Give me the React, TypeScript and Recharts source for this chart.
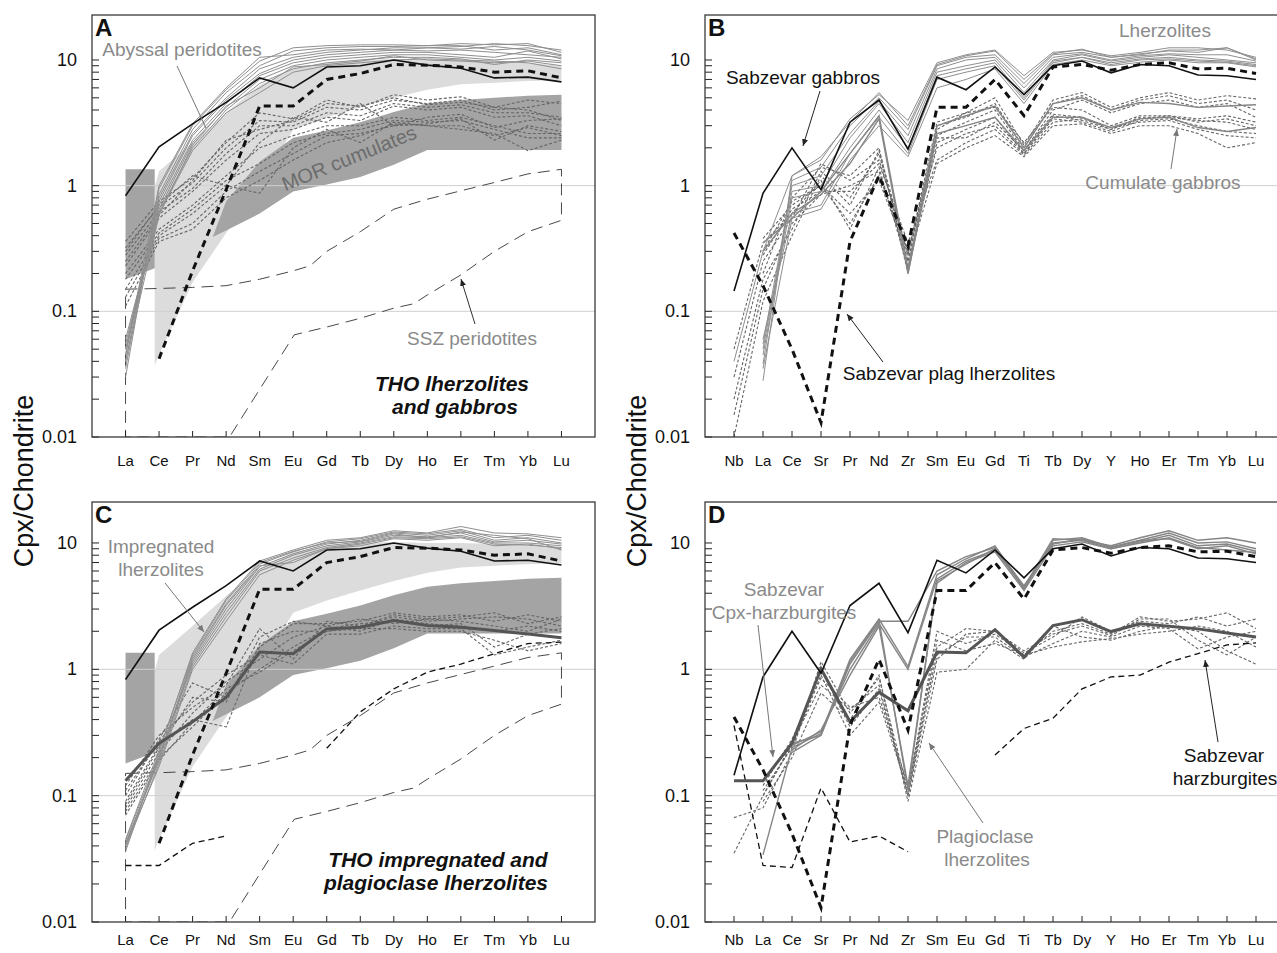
import React from 'react';
import { ComposedChart, Line, Area, XAxis, YAxis, ReferenceLine } from 'recharts';

const FONT = "'Liberation Sans', Arial, Helvetica, sans-serif";

// ---------- categories ----------
const REE = ['La', 'Ce', 'Pr', 'Nd', 'Sm', 'Eu', 'Gd', 'Tb', 'Dy', 'Ho', 'Er', 'Tm', 'Yb', 'Lu'];
const SPIDER = ['Nb', 'La', 'Ce', 'Sr', 'Pr', 'Nd', 'Zr', 'Sm', 'Eu', 'Gd', 'Ti', 'Tb', 'Dy', 'Y', 'Ho', 'Er', 'Tm', 'Yb', 'Lu'];
const Y_TICKS = [0.01, 0.02, 0.03, 0.04, 0.05, 0.06, 0.07, 0.08, 0.09, 0.1, 0.2, 0.3, 0.4, 0.5, 0.6, 0.7, 0.8, 0.9, 1, 2, 3, 4, 5, 6, 7, 8, 9, 10];
const Y_MAJOR = [0.01, 0.1, 1, 10];

// ---------- fields (REE panels A & C) ----------
const lightFieldX = [1.87, 2, 3, 4, 5, 6, 7, 8, 9, 10, 11, 12, 13, 14];
const lightFieldLow = [0.037, 0.045, 0.17, 0.42, 1.0, 2.8, 3.5, 4.2, 5.0, 5.8, 6.4, 6.6, 6.8, 6.9];
const lightFieldHigh = [0.97, 1.3, 2.2, 3.8, 6.3, 8.5, 9.5, 10, 10.2, 10, 10, 9.8, 9.5, 9.0];

const morRectX = [1, 1.87];
const morRectLow = [0.18, 0.22];
const morRectHigh = [1.35, 1.35];

const morFieldX = [3.6, 4, 5, 6, 7, 8, 9, 10, 11, 12, 13, 14];
const morFieldLow = [0.39, 0.44, 0.6, 0.9, 1.02, 1.17, 1.47, 1.92, 1.92, 1.92, 1.92, 1.92];
const morFieldHigh = [0.39, 0.75, 1.55, 2.4, 2.75, 3.2, 3.85, 4.5, 4.8, 5.0, 5.2, 5.3];

// SSZ peridotites outline (traced polygon)
const sszX = [1, 2, 3, 4, 5, 6, 6.5, 7, 8, 9, 10, 11, 12, 13, 14, 14, 13, 12, 11, 10, 9.6, 9, 8, 7, 6.03, 4.1, 3, 2, 1, 1];
const sszY = [0.15, 0.152, 0.155, 0.16, 0.18, 0.21, 0.23, 0.3, 0.43, 0.65, 0.78, 0.91, 1.06, 1.24, 1.35, 0.53, 0.43, 0.3, 0.195, 0.135, 0.115, 0.106, 0.088, 0.075, 0.065, 0.01, 0.01, 0.01, 0.01, 0.15];

// ---------- panel A ----------
const abyssalA = [
  [0.030, 0.95, 3.0, 5.8, 9.8, 12.5, 13.0, 13.2, 13.2, 13.0, 13.5, 13.2, 13.5, 11.5],
  [0.035, 0.85, 2.8, 5.5, 9.0, 11.8, 12.5, 12.8, 12.8, 13.0, 13.0, 12.0, 12.5, 11.0],
  [0.040, 0.80, 2.6, 5.0, 8.5, 10.5, 11.5, 12.0, 12.5, 12.5, 12.2, 12.8, 12.0, 10.8],
  [0.045, 0.75, 2.5, 4.8, 7.8, 10.0, 11.0, 11.5, 12.0, 11.8, 12.0, 11.5, 11.0, 10.5],
  [0.050, 0.70, 2.3, 4.5, 7.5, 9.5, 10.5, 11.0, 11.5, 11.5, 11.0, 10.5, 11.8, 10.2],
  [0.055, 0.65, 2.2, 4.2, 7.0, 9.0, 10.0, 10.5, 11.0, 11.0, 10.5, 10.0, 10.5, 9.8],
  [0.060, 0.62, 2.0, 4.0, 6.5, 8.5, 9.5, 10.0, 10.5, 10.5, 10.2, 9.2, 10.0, 9.5],
  [0.050, 0.60, 1.9, 3.8, 5.5, 8.0, 9.0, 9.5, 10.0, 10.2, 10.0, 9.8, 9.5, 8.5],
  [0.040, 0.58, 2.1, 4.3, 6.0, 8.8, 9.2, 9.8, 10.8, 10.0, 9.8, 9.5, 9.8, 9.0],
  [0.045, 1.0, 3.1, 6.0, 10.5, 11.0, 12.0, 12.2, 12.0, 12.5, 12.8, 13.5, 13.0, 12.0],
];
const gabbroDashA = [
  [0.36, 0.75, 1.15, 2.2, 3.8, 3.4, 4.8, 4.2, 5.3, 4.8, 5.1, 4.2, 4.8, 4.5],
  [0.32, 0.68, 1.05, 2.0, 3.3, 3.2, 4.2, 4.0, 4.8, 4.5, 4.8, 4.0, 4.2, 4.7],
  [0.28, 0.62, 0.95, 1.8, 3.0, 3.0, 3.8, 3.6, 4.5, 4.2, 4.4, 3.8, 3.8, 3.5],
  [0.25, 0.58, 1.1, 2.3, 2.8, 3.3, 4.5, 4.3, 5.0, 4.4, 4.6, 4.2, 4.0, 3.3],
  [0.23, 0.55, 0.9, 1.6, 2.6, 2.8, 3.5, 3.3, 4.3, 4.0, 4.2, 3.5, 3.6, 3.0],
  [0.20, 0.45, 0.7, 1.2, 2.0, 2.5, 3.0, 3.0, 3.5, 3.3, 3.5, 3.0, 2.6, 2.6],
  [0.18, 0.42, 0.65, 1.1, 1.5, 2.2, 2.6, 2.8, 3.3, 3.2, 3.3, 2.8, 2.4, 2.4],
  [0.15, 0.40, 0.6, 1.0, 0.87, 2.0, 2.8, 2.2, 3.2, 3.0, 3.0, 2.5, 2.9, 2.5],
  [0.13, 0.38, 0.5, 0.9, 1.3, 1.8, 2.5, 2.6, 3.0, 3.1, 3.4, 2.3, 3.0, 2.7],
  [0.11, 0.36, 0.45, 0.8, 1.1, 1.6, 2.2, 2.5, 3.1, 3.0, 2.8, 2.6, 1.9, 2.3],
  [0.30, 0.70, 1.2, 1.0, 2.2, 3.5, 3.2, 4.5, 3.0, 3.5, 3.7, 2.9, 3.3, 3.4],
];
const sabzGabbroREE = [0.83, 2.04, 3.1, 4.6, 7.2, 6.0, 8.8, 9.0, 10.0, 9.1, 8.6, 7.2, 7.3, 6.7];
const sabzPlagREE = [null, 0.042, 0.21, 0.93, 4.3, 4.3, 7.0, 7.8, 9.2, 9.1, 8.8, 8.0, 8.2, 7.2];

// ---------- panel B ----------
const lherzB = [
  [null, 0.028, 1.2, 1.6, 3.4, 5.3, 3.3, 9.5, 11.0, 12.0, 7.5, 11.5, 12.0, 10.8, 11.5, 12.5, 12.5, 12.0, 10.5],
  [null, 0.038, 1.1, 1.4, 3.0, 5.0, 2.8, 9.0, 10.5, 11.0, 6.5, 11.0, 11.5, 10.5, 11.0, 12.0, 12.0, 12.5, 10.0],
  [null, 0.055, 1.0, 1.2, 2.6, 4.7, 2.5, 8.5, 10.0, 10.5, 6.0, 10.5, 11.2, 10.0, 10.8, 11.2, 11.0, 11.0, 9.8],
  [null, 0.05, 0.9, 1.0, 2.4, 4.5, 2.2, 8.0, 9.0, 10.0, 5.5, 10.0, 11.0, 9.8, 10.5, 11.0, 10.5, 10.0, 9.5],
  [null, 0.045, 0.8, 0.9, 2.0, 4.0, 2.0, 7.5, 8.5, 9.5, 5.0, 9.8, 10.5, 9.5, 10.2, 10.5, 10.0, 9.8, 9.2],
  [null, 0.06, 0.6, 0.7, 1.8, 3.5, 1.8, 7.0, 8.0, 9.0, 4.8, 9.5, 10.5, 9.2, 10.0, 10.2, 9.8, 9.6, 9.0],
  [null, 0.035, 0.55, 0.65, 1.6, 3.0, 1.7, 6.0, 7.0, 8.5, 4.5, 9.2, 10.0, 9.0, 9.6, 10.0, 9.5, 9.5, 8.8],
  [0.04, 0.3, 1.2, 1.7, 3.2, 5.5, 3.0, 9.2, 10.8, 11.8, 7.0, 11.2, 12.2, 10.5, 11.2, 11.8, 11.5, 12.5, 10.2],
];
const cumSolidB = [
  [null, 0.35, 0.55, 0.9, 1.8, 3.6, 0.22, 3.0, 3.6, 4.3, 2.0, 4.5, 5.0, 4.0, 4.6, 4.5, 4.2, 4.3, 4.4],
  [null, 0.3, 0.6, 0.85, 1.5, 3.4, 0.2, 2.6, 3.0, 3.5, 1.9, 3.5, 3.5, 2.9, 3.4, 3.5, 2.9, 2.7, 2.9],
];
const cumDashB = [
  [0.010, 0.12, 0.40, 1.2, 0.7, 1.9, 0.28, 3.2, 3.8, 5.0, 2.1, 4.8, 5.5, 4.2, 5.0, 5.5, 4.8, 5.2, 4.9],
  [0.02, 0.18, 0.45, 1.3, 0.8, 1.8, 0.25, 3.0, 3.5, 4.5, 2.0, 4.5, 5.2, 4.0, 4.8, 5.2, 4.5, 4.8, 4.0],
  [0.03, 0.25, 0.55, 1.5, 1.1, 1.6, 0.3, 2.5, 3.2, 4.0, 1.9, 4.0, 4.8, 3.8, 4.5, 4.8, 4.2, 4.5, 3.5],
  [0.05, 0.35, 0.6, 1.1, 0.45, 1.4, 0.22, 2.2, 2.8, 3.5, 1.8, 3.6, 3.3, 2.8, 3.4, 3.6, 3.2, 3.4, 3.0],
  [null, 0.38, 0.7, 1.0, 0.5, 1.2, 0.3, 2.0, 2.6, 3.0, 1.8, 3.4, 3.2, 2.7, 3.3, 3.4, 3.0, 2.7, 2.6],
  [null, 0.28, 0.65, 0.9, 0.9, 1.5, 0.35, 1.6, 2.2, 2.8, 1.75, 3.2, 3.4, 2.9, 3.2, 3.3, 2.8, 2.5, 2.4],
  [0.015, 0.15, 0.5, 0.85, 1.0, 1.3, 0.25, 1.5, 2.0, 2.5, 1.7, 3.0, 3.1, 2.6, 3.0, 3.0, 2.6, 2.0, 2.2],
  [null, 0.2, 0.8, 1.4, 1.2, 2.0, 0.2, 2.8, 3.8, 4.2, 2.2, 4.2, 4.0, 3.0, 3.6, 3.6, 3.4, 3.6, 3.2],
  [null, 0.3, 0.75, 1.0, 0.6, 1.1, 0.28, 2.4, 2.4, 3.2, 1.9, 3.7, 3.5, 2.8, 3.5, 3.5, 3.3, 3.2, 2.8],
];
const sabzGabbroSp = [0.145, 0.87, 2.0, 0.93, 3.2, 4.8, 1.95, 7.3, 5.8, 8.8, 5.3, 9.0, 9.8, 7.9, 9.2, 9.0, 7.6, 7.5, 7.0];
const sabzPlagSp = [0.42, 0.16, 0.05, 0.013, 0.36, 1.2, 0.33, 4.2, 4.2, 7.0, 3.6, 8.8, 9.2, 8.3, 9.2, 9.5, 8.5, 8.6, 7.8];

// ---------- panel C ----------
const impregC = [
  [0.036, 0.22, 1.35, 3.6, 7.2, 8.8, 10.5, 11.0, 12.5, 12.0, 13.5, 12.0, 11.8, 11.0],
  [0.040, 0.20, 1.25, 3.3, 6.8, 8.5, 10.2, 10.8, 12.2, 11.8, 12.8, 11.0, 11.5, 10.5],
  [0.042, 0.19, 1.15, 3.0, 6.5, 8.2, 9.8, 10.5, 12.0, 11.5, 12.5, 10.5, 11.0, 10.0],
  [0.044, 0.21, 1.1, 2.8, 6.2, 8.0, 9.5, 10.2, 11.5, 11.2, 12.0, 10.2, 10.5, 9.8],
  [0.038, 0.18, 1.05, 2.6, 6.0, 7.6, 9.2, 10.0, 11.2, 11.0, 11.5, 10.0, 10.0, 9.5],
  [0.040, 0.17, 1.0, 2.4, 5.6, 7.3, 9.0, 9.8, 11.0, 10.8, 11.2, 9.8, 9.6, 9.2],
  [0.045, 0.23, 1.3, 3.5, 7.0, 8.6, 10.0, 10.3, 11.8, 11.0, 12.2, 11.5, 10.8, 8.8],
  [0.041, 0.20, 1.2, 3.2, 6.6, 7.0, 9.0, 9.5, 10.8, 10.5, 11.0, 9.5, 9.8, 9.0],
];
const plagDashC = [
  [0.12, 0.30, 0.50, 0.75, 2.1, 1.2, 2.4, 2.2, 2.7, 2.5, 2.6, 2.8, 2.3, 2.6],
  [0.10, 0.28, 0.78, 0.60, 1.5, 2.3, 2.3, 2.4, 2.8, 2.6, 2.7, 2.4, 2.7, 2.4],
  [0.09, 0.25, 0.40, 0.35, 1.6, 2.0, 2.0, 2.2, 2.6, 2.4, 2.5, 2.6, 2.5, 2.2],
  [0.08, 0.22, 0.45, 0.80, 1.2, 1.8, 2.2, 2.0, 2.5, 2.3, 2.2, 2.0, 2.2, 2.0],
  [0.075, 0.20, 0.35, 0.65, 1.0, 1.5, 2.1, 2.3, 2.4, 2.2, 2.3, 1.5, 1.9, 2.1],
  [0.11, 0.27, 0.55, 0.9, 1.3, 1.1, 1.9, 1.9, 2.2, 2.1, 2.1, 1.3, 1.5, 1.7],
  [0.07, 0.19, 0.38, 0.7, 0.95, 1.4, 2.0, 2.1, 2.1, 2.0, 2.0, 1.7, 1.4, 1.6],
  [0.085, 0.24, 0.6, 0.55, 1.8, 2.4, 2.2, 2.5, 2.3, 2.5, 2.4, 2.2, 2.0, 2.5],
];
const harzAvgC = [0.131, 0.26, 0.385, 0.6, 1.37, 1.33, 2.09, 2.15, 2.43, 2.22, 2.15, 2.03, 1.9, 1.78];
const harzDashC = [0.028, 0.028, 0.042, 0.048, null, null, 0.237, 0.46, 0.7, 0.95, 1.1, 1.33, 1.6, 1.64];

// ---------- panel D ----------
const cpxHarzD = [
  [null, 0.034, 0.24, 0.31, 1.2, 2.5, 1.05, 5.6, 7.5, 9.5, 4.5, 10.8, 10.5, 9.5, 11.0, 12.5, 10.5, 11.0, 10.0],
  [null, null, 0.22, 0.30, 1.1, 2.4, 2.4, 6.0, 7.8, 9.2, 4.3, 10.5, 11.0, 9.3, 10.5, 12.0, 10.0, 10.2, 9.0],
  [null, null, 0.25, 0.32, 1.0, 2.3, 1.0, 5.2, 7.2, 8.8, 4.4, 10.0, 10.5, 9.0, 10.2, 11.5, 9.5, 9.8, 8.6],
  [null, null, 0.23, 0.33, 0.9, 2.2, 0.12, 4.8, 7.0, 8.5, 4.2, 9.5, 10.2, 9.0, 10.0, 11.0, 9.2, 8.8, 8.4],
  [null, null, 0.26, 0.30, 1.15, 2.45, 0.11, 5.0, 6.8, 9.0, 4.6, 9.8, 10.8, 9.2, 10.4, 10.8, 9.0, 9.5, 8.2],
];
const plagDashD = [
  [0.067, 0.08, 0.22, 1.15, 0.45, 0.85, 0.11, 2.0, 1.6, 1.9, 1.3, 2.0, 2.3, 1.9, 2.6, 2.4, 2.5, 2.8, 2.1],
  [0.035, 0.10, 0.25, 1.0, 0.35, 0.70, 0.10, 1.5, 2.1, 2.0, 1.35, 1.8, 2.6, 2.0, 2.4, 2.3, 2.6, 2.2, 2.5],
  [null, 0.12, 0.28, 0.85, 0.5, 0.60, 0.12, 1.3, 1.8, 1.8, 1.25, 1.6, 2.0, 1.8, 2.2, 2.1, 1.45, 1.8, 2.0],
  [null, 0.09, 0.20, 0.65, 0.40, 0.90, 0.09, 0.95, 1.0, 1.7, 1.2, 2.2, 1.8, 1.7, 2.0, 2.2, 2.0, 1.4, 1.1],
  [null, 0.11, 0.24, 0.9, 0.30, 0.55, 0.11, 1.7, 1.4, 1.6, 1.3, 1.5, 1.65, 1.75, 1.9, 2.0, 2.2, 2.0, 1.5],
  [null, 0.10, 0.26, 0.75, 0.48, 0.75, 0.10, 1.2, 1.9, 2.0, 1.4, 1.9, 2.2, 1.85, 2.5, 2.5, 1.7, 1.3, 1.8],
];
const harzAvgD = [0.131, 0.131, 0.26, 1.01, 0.385, 0.66, 0.47, 1.37, 1.35, 2.06, 1.25, 2.22, 2.47, 1.99, 2.29, 2.19, 2.09, 1.94, 1.8];
const harzDashD1 = [0.36, 0.028, 0.027, 0.115, 0.043, 0.048, 0.036, null, null, null, null, null, null, null, null, null, null, null, null];
const harzDashD2 = [null, null, null, null, null, null, null, null, null, 0.21, 0.34, 0.41, 0.7, 0.87, 0.9, 1.14, 1.33, 1.56, 1.62];

// ---------- helpers ----------
const pts = (vals: (number | null)[]) => vals.map((v, i) => ({ x: i + 1, y: v }));
const xyPts = (xs: number[], ys: number[]) => xs.map((x, i) => ({ x, y: ys[i] }));
const rangePts = (xs: number[], lo: number[], hi: number[]) => xs.map((x, i) => ({ x, r: [lo[i], hi[i]] }));

const ST: Record<string, any> = {
  graySolid: { stroke: '#8f8f8f', strokeWidth: 1 },
  grayMid: { stroke: '#858585', strokeWidth: 1.4 },
  grayDash: { stroke: '#666', strokeWidth: 1.1, strokeDasharray: '3 2' },
  black: { stroke: '#111', strokeWidth: 1.6 },
  thickDash: { stroke: '#111', strokeWidth: 3, strokeDasharray: '7 5' },
  medDash: { stroke: '#111', strokeWidth: 1.3, strokeDasharray: '6 4' },
  darkThick: { stroke: '#555', strokeWidth: 3 },
  ssz: { stroke: '#333', strokeWidth: 0.9, strokeDasharray: '12 7' },
};

const mkLine = (key: string, data: any[], style: any) => (
  <Line key={key} data={data} dataKey="y" type="linear" dot={false} activeDot={false}
    isAnimationActive={false} legendType="none" connectNulls={false} {...style} />
);
const mkArea = (key: string, data: any[], fill: string) => (
  <Area key={key} data={data} dataKey="r" type="linear" stroke="none" fill={fill} fillOpacity={1}
    isAnimationActive={false} legendType="none" dot={false} activeDot={false} />
);

const YTick = (props: any) => {
  const { x, y, payload } = props;
  const v = payload.value;
  const major = Y_MAJOR.some((m) => Math.abs(m - v) < 1e-9);
  return (
    <g>
      <line x1={x} x2={x + 7} y1={y} y2={y} stroke="#222" strokeWidth={1} />
      {major && (
        <text x={x - 15} y={y} textAnchor="end" dominantBaseline="central" fontSize={18}
          fill="#111" fontFamily={FONT}>{String(v)}</text>
      )}
    </g>
  );
};

const makeXTick = (labels: string[], offset: number) => (props: any) => {
  const { x, y, payload } = props;
  return (
    <g>
      <line x1={x} x2={x} y1={y} y2={y - 6} stroke="#222" strokeWidth={1} />
      <text x={x} y={y + offset} textAnchor="middle" dominantBaseline="central" fontSize={15}
        fill="#111" fontFamily={FONT}>{labels[payload.value - 1]}</text>
    </g>
  );
};

function Panel(p: { left: number; top: number; width: number; height: number; margin: any; cats: string[]; xMax: number; yMax: number; labelOffset: number; items: any[] }) {
  const rows = p.cats.map((c, i) => ({ x: i + 1, name: c }));
  return (
    <div style={{ position: 'absolute', left: p.left, top: p.top }}>
      <ComposedChart width={p.width} height={p.height} margin={p.margin} data={rows}>
        <XAxis type="number" dataKey="x" domain={[0, p.xMax]} ticks={p.cats.map((_, i) => i + 1)} interval={0}
          allowDataOverflow tickSize={0} tickMargin={0} tickLine={false} axisLine={false} height={30}
          tick={makeXTick(p.cats, p.labelOffset)} />
        <YAxis type="number" scale="log" domain={[0.01, p.yMax]} ticks={Y_TICKS} interval={0} allowDataOverflow
          width={60} tickSize={0} tickMargin={0} tickLine={false} axisLine={false} tick={(tp: any) => <YTick {...tp} />} />
        <ReferenceLine y={1} stroke="#d0d0d0" strokeWidth={1} />
        <ReferenceLine y={0.1} stroke="#d0d0d0" strokeWidth={1} />
        {p.items}
      </ComposedChart>
    </div>
  );
}

const LIGHT = '#dcdcdc';
const DARK = '#a4a4a4';

const fieldItems = (k: string) => [
  mkArea(k + 'light', rangePts(lightFieldX, lightFieldLow, lightFieldHigh), LIGHT),
  mkArea(k + 'mor1', rangePts(morRectX, morRectLow, morRectHigh), DARK),
  mkArea(k + 'mor2', rangePts(morFieldX, morFieldLow, morFieldHigh), DARK),
];

const itemsA = [
  ...fieldItems('a'),
  mkLine('a-ssz', xyPts(sszX, sszY), ST.ssz),
  ...gabbroDashA.map((s, i) => mkLine('a-gd' + i, pts(s), ST.grayDash)),
  ...abyssalA.map((s, i) => mkLine('a-ab' + i, pts(s), ST.graySolid)),
  mkLine('a-black', pts(sabzGabbroREE), ST.black),
  mkLine('a-plag', pts(sabzPlagREE), ST.thickDash),
];

const itemsB = [
  ...cumDashB.map((s, i) => mkLine('b-cd' + i, pts(s), ST.grayDash)),
  ...cumSolidB.map((s, i) => mkLine('b-cs' + i, pts(s), ST.grayMid)),
  ...lherzB.map((s, i) => mkLine('b-lz' + i, pts(s), ST.graySolid)),
  mkLine('b-black', pts(sabzGabbroSp), ST.black),
  mkLine('b-plag', pts(sabzPlagSp), ST.thickDash),
];

const itemsC = [
  ...fieldItems('c'),
  mkLine('c-ssz', xyPts(sszX, sszY), ST.ssz),
  ...plagDashC.map((s, i) => mkLine('c-pd' + i, pts(s), ST.grayDash)),
  ...impregC.map((s, i) => mkLine('c-im' + i, pts(s), ST.graySolid)),
  mkLine('c-hd', pts(harzDashC), ST.medDash),
  mkLine('c-havg', pts(harzAvgC), ST.darkThick),
  mkLine('c-black', pts(sabzGabbroREE), ST.black),
  mkLine('c-plag', pts(sabzPlagREE), ST.thickDash),
];

const itemsD = [
  ...plagDashD.map((s, i) => mkLine('d-pd' + i, pts(s), ST.grayDash)),
  ...cpxHarzD.map((s, i) => mkLine('d-cx' + i, pts(s), ST.grayMid)),
  mkLine('d-hd1', pts(harzDashD1), ST.medDash),
  mkLine('d-hd2', pts(harzDashD2), ST.medDash),
  mkLine('d-havg', pts(harzAvgD), ST.darkThick),
  mkLine('d-black', pts(sabzGabbroSp), ST.black),
  mkLine('d-plag', pts(sabzPlagSp), ST.thickDash),
];

const GRAY_TXT = '#8a8a8a';

function Overlay() {
  const t = (x: number, y: number, s: string, o: any = {}) => (
    <text x={x} y={y} fontFamily={FONT} fontSize={19} fill="#111" textAnchor="middle" {...o}>{s}</text>
  );
  const title = { fontWeight: 'bold', fontStyle: 'italic', fontSize: 21 };
  return (
    <svg width={1277} height={953} style={{ position: 'absolute', left: 0, top: 0, pointerEvents: 'none' }}>
      <defs>
        <marker id="ahk" markerWidth="8" markerHeight="8" refX="7" refY="3" orient="auto" markerUnits="userSpaceOnUse">
          <path d="M0,0 L7,3 L0,6 z" fill="#222" />
        </marker>
        <marker id="ahg" markerWidth="8" markerHeight="8" refX="7" refY="3" orient="auto" markerUnits="userSpaceOnUse">
          <path d="M0,0 L7,3 L0,6 z" fill="#777" />
        </marker>
      </defs>
      {/* panel boxes */}
      <rect x={92} y={15} width={503} height={422} fill="none" stroke="#3a3a3a" strokeWidth={1.3} />
      <rect x={705} y={15} width={600} height={422} fill="none" stroke="#3a3a3a" strokeWidth={1.3} />
      <rect x={92} y={502} width={503} height={420} fill="none" stroke="#3a3a3a" strokeWidth={1.3} />
      <rect x={705} y={502} width={600} height={420} fill="none" stroke="#3a3a3a" strokeWidth={1.3} />
      {/* panel letters */}
      {t(95, 36, 'A', { textAnchor: 'start', fontSize: 24, fontWeight: 'bold' })}
      {t(708, 36, 'B', { textAnchor: 'start', fontSize: 24, fontWeight: 'bold' })}
      {t(95, 523, 'C', { textAnchor: 'start', fontSize: 24, fontWeight: 'bold' })}
      {t(708, 523, 'D', { textAnchor: 'start', fontSize: 24, fontWeight: 'bold' })}
      {/* y axis titles */}
      <text x={24} y={481} transform="rotate(-90 24 481)" textAnchor="middle" dominantBaseline="central"
        fontFamily={FONT} fontSize={27} fill="#111">Cpx/Chondrite</text>
      <text x={637} y={481} transform="rotate(-90 637 481)" textAnchor="middle" dominantBaseline="central"
        fontFamily={FONT} fontSize={27} fill="#111">Cpx/Chondrite</text>

      {/* Panel A annotations */}
      {t(182, 56, 'Abyssal peridotites', { fill: GRAY_TXT })}
      <line x1={177} y1={66} x2={206} y2={128} stroke="#777" strokeWidth={1} />
      <text x={349} y={165} transform="rotate(-22 349 158)" textAnchor="middle" fontFamily={FONT} fontSize={20} fill="#6c6c6c">MOR cumulates</text>
      {t(472, 345, 'SSZ peridotites', { fill: GRAY_TXT })}
      <line x1={475} y1={324} x2={461} y2={279} stroke="#333" strokeWidth={1} markerEnd="url(#ahk)" />
      {t(452, 391, 'THO lherzolites', title)}
      {t(455, 414, 'and gabbros', title)}

      {/* Panel B annotations */}
      {t(1165, 37, 'Lherzolites', { fill: GRAY_TXT })}
      {t(803, 84, 'Sabzevar gabbros')}
      <line x1={820} y1={91} x2={803} y2={146} stroke="#222" strokeWidth={1} markerEnd="url(#ahk)" />
      {t(1163, 189, 'Cumulate gabbros', { fill: GRAY_TXT })}
      <line x1={1171} y1={169} x2={1177} y2={129} stroke="#777" strokeWidth={1} markerEnd="url(#ahg)" />
      {t(949, 380, 'Sabzevar plag lherzolites')}
      <line x1={883} y1={362} x2={847} y2={314} stroke="#222" strokeWidth={1} markerEnd="url(#ahk)" />

      {/* Panel C annotations */}
      {t(161, 553, 'Impregnated', { fill: GRAY_TXT })}
      {t(161, 576, 'lherzolites', { fill: GRAY_TXT })}
      <line x1={165} y1={583} x2={204} y2={632} stroke="#777" strokeWidth={1} markerEnd="url(#ahg)" />
      {t(438, 867, 'THO impregnated and', title)}
      {t(436, 890, 'plagioclase lherzolites', title)}

      {/* Panel D annotations */}
      {t(784, 596, 'Sabzevar', { fill: GRAY_TXT })}
      {t(784, 619, 'Cpx-harzburgites', { fill: GRAY_TXT })}
      <line x1={758} y1={625} x2={773} y2={757} stroke="#777" strokeWidth={1} markerEnd="url(#ahg)" />
      {t(985, 843, 'Plagioclase', { fill: GRAY_TXT })}
      {t(987, 866, 'lherzolites', { fill: GRAY_TXT })}
      <line x1={983} y1={823} x2={929} y2={743} stroke="#777" strokeWidth={1} markerEnd="url(#ahg)" />
      {t(1224, 762, 'Sabzevar')}
      {t(1225, 785, 'harzburgites')}
      <line x1={1218} y1={742} x2={1205} y2={660} stroke="#222" strokeWidth={1} markerEnd="url(#ahk)" />
    </svg>
  );
}

export default function App() {
  return (
    <div style={{ position: 'absolute', left: 0, top: 0, width: 1277, height: 953, overflow: 'hidden', background: '#fff' }}>
      <Panel left={0} top={0} width={640} height={475} margin={{ top: 15, right: 45, bottom: 8, left: 32 }}
        cats={REE} xMax={15} yMax={22.8} labelOffset={23} items={itemsA} />
      <Panel left={640} top={0} width={660} height={475} margin={{ top: 15, right: 15, bottom: 8, left: 5 }}
        cats={SPIDER} xMax={20} yMax={22.8} labelOffset={23} items={itemsB} />
      <Panel left={0} top={470} width={640} height={500} margin={{ top: 32, right: 45, bottom: 18, left: 32 }}
        cats={REE} xMax={15} yMax={21.1} labelOffset={17} items={itemsC} />
      <Panel left={640} top={470} width={660} height={500} margin={{ top: 32, right: 15, bottom: 18, left: 5 }}
        cats={SPIDER} xMax={20} yMax={21.1} labelOffset={17} items={itemsD} />
      <Overlay />
    </div>
  );
}
